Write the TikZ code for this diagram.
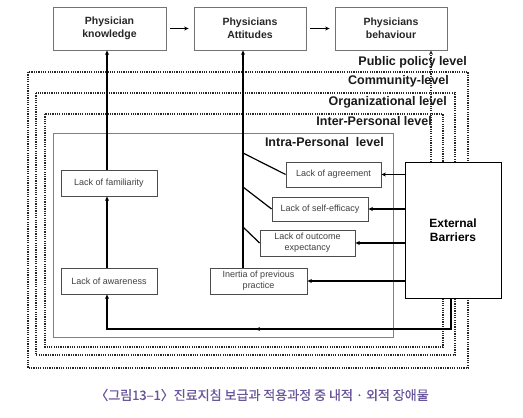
\documentclass[tikz,border=0pt]{standalone}
\usepackage{fontspec}
\setmainfont{Liberation Sans}
\newfontfamily\krfont[FakeBold=0.7]{Noto Sans CJK KR}
\usetikzlibrary{arrows.meta,decorations.markings}
\definecolor{capcol}{RGB}{105,85,155}
\begin{document}
\begin{tikzpicture}[x=1bp,y=-1bp,
 topbox/.style={draw=black!55, line width=0.8bp, minimum width=112bp, minimum height=43bp, inner sep=0pt, align=center, font=\fontsize{10.5bp}{13bp}\selectfont\bfseries, text=black!85},
 smallbox/.style={draw=black!70, line width=0.8bp, fill=white, inner sep=0pt, align=center, font=\fontsize{9bp}{11bp}\selectfont, text=black!75},
 lvl/.style={anchor=east, font=\fontsize{12.5bp}{14bp}\selectfont\bfseries, inner sep=0pt, text=black!90},
 dotrect/.style={draw=black!85, line width=1.3bp, dash pattern=on 1.2bp off 1.1bp},
 tipa/.style={-{Stealth[length=4.5bp,width=4bp]}},
 arr/.style={tipa, line width=1.6bp, draw=black},
 thin/.style={line width=1.2bp, draw=black},
]
\useasboundingbox (0,0) rectangle (523,417);

% level frames
\draw[dotrect] (28,72) rectangle (468,368);
\draw[dotrect] (36,93) rectangle (455,355);
\draw[dotrect] (45,114) rectangle (443,347);
\draw[draw=black!50, line width=0.8bp] (53,133) rectangle (393,337);

% level labels
\node[lvl] (l1) at (467,62) {Public policy level};
\node[lvl] (l2) at (449,81.5) {Community-level};
\node[lvl] (l3) at (447,102.5) {Organizational level};
\node[lvl] (l4) at (432,121.5) {Inter-Personal level};
\node[lvl] (l5) at (384,142) {Intra-Personal\ \ level};

% top boxes
\node[topbox, minimum width=113bp] (kn) at (109.5,28.5) {Physician\\knowledge};
\node[topbox] (at) at (250,28.5) {Physicians\\Attitudes};
\node[topbox] (bh) at (391,28.5) {Physicians\\behaviour};

% barrier boxes
\node[smallbox, minimum width=96bp, minimum height=26bp] (fam) at (109,183) {Lack of familiarity};
\node[smallbox, minimum width=96bp, minimum height=26bp] (awa) at (109,281) {Lack of awareness};
\node[smallbox, minimum width=97bp, minimum height=26bp] (ine) at (258.5,281) {Inertia of previous\\practice};
\node[smallbox, minimum width=95bp, minimum height=25bp] (agr) at (333.5,174.5) {Lack of agreement};
\node[smallbox, minimum width=96bp, minimum height=24bp] (eff) at (320,209) {Lack of self-efficacy};
\node[smallbox, minimum width=95bp, minimum height=26bp] (out) at (307.5,243) {Lack of outcome\\expectancy};

% helper coordinates
\coordinate (kx) at (107,0);
\coordinate (vx) at (243,0);
\coordinate (dx) at (431,0);
\coordinate (b1) at (243,153);
\coordinate (b2) at (243,187);
\coordinate (b3) at (243,227);
\coordinate (c1) at (451,329);

% dotted arrow to behaviour (drawn before box)
\draw[tipa, draw=black!85, line width=1.2bp, dash pattern=on 1.2bp off 1.1bp] (dx |- 162,162) -- (bh.south -| dx);

% external barriers
\node[draw=black, line width=1bp, fill=white, minimum width=96bp, minimum height=136bp, inner sep=0pt, align=center, font=\fontsize{12bp}{14bp}\selectfont\bfseries] (ext) at (453,230) {External\\Barriers};

% top arrows
\draw[arr] ([xshift=4bp]kn.east) -- ([xshift=-5bp]at.west);
\draw[arr] ([xshift=4bp]at.east) -- ([xshift=-5bp]bh.west);

% vertical arrows
\draw[arr] (fam.north -| kx) -- (kn.south -| kx);
\draw[arr] (awa.north -| kx) -- (fam.south -| kx);
\draw[arr, line width=1.4bp] (ine.north -| vx) -- (at.south -| vx);

% branches
\draw[thin] (b1) -- (agr.west);
\draw[thin] (b2) -- (eff.west);
\draw[thin] (b3) -- (out.west);

% arrows from external barriers
\draw[arr] (agr.east -| ext.west) -- (agr.east);
\draw[arr] (eff.east -| ext.west) -- (eff.east);
\draw[arr] (out.east -| ext.west) -- (out.east);
\draw[arr] (ine.east -| ext.west) -- (ine.east);

% bottom loop
\draw[arr, decoration={markings, mark=at position 226bp with {\arrow{Stealth[length=4.5bp,width=4bp]}}}, postaction={decorate}]
  (ext.south -| c1) -- (c1) -- (c1 -| kx) -- (awa.south -| kx);

% caption
\node[font=\krfont\fontsize{13bp}{15bp}\selectfont, text=capcol, inner sep=0pt] (cap) at (262,395) {〈그림13–1〉진료지침 보급과 적용과정 중 내적 · 외적 장애물};
\end{tikzpicture}
\end{document}
